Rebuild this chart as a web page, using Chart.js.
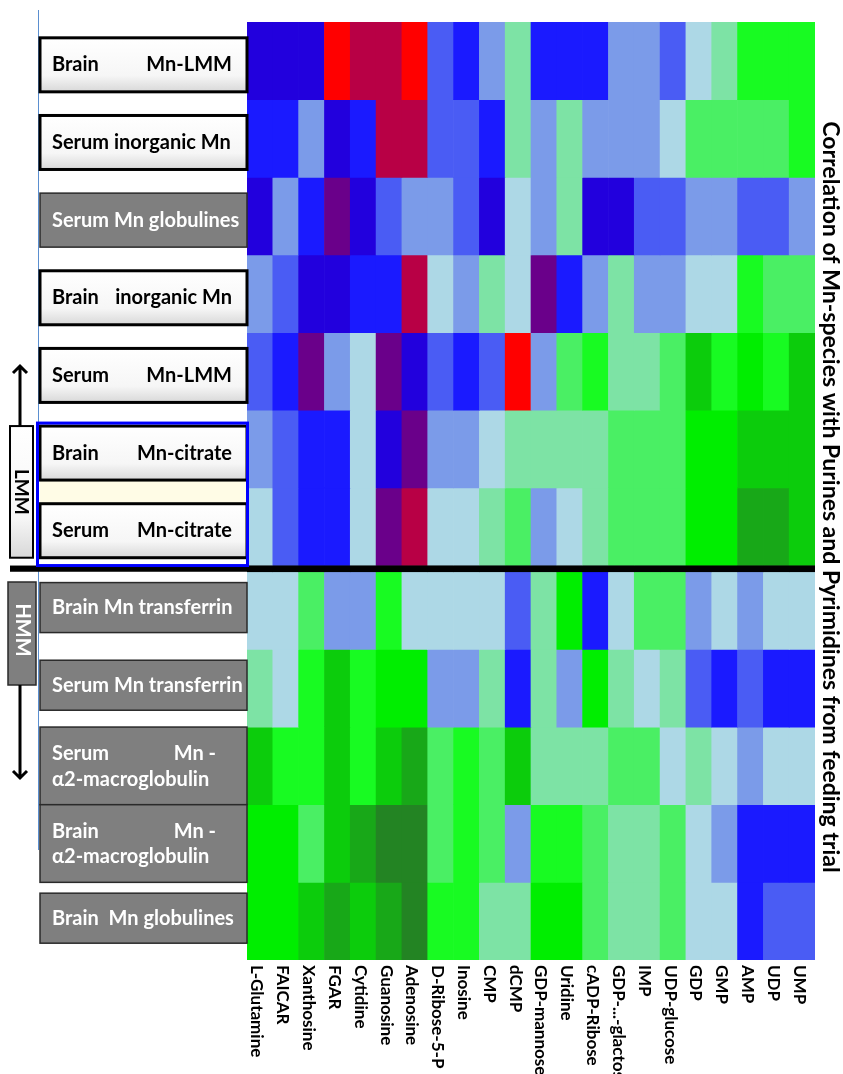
<!DOCTYPE html>
<html>
<head>
<meta charset="utf-8">
<script src="https://cdn.jsdelivr.net/npm/chart.js@4.4.0/dist/chart.umd.min.js"></script>
<style>
  html, body { margin: 0; padding: 0; background: #fff; }
  #wrap { width: 843px; height: 1074px; position: relative; }
</style>
</head>
<body>
<div id="wrap"><canvas id="heat"></canvas></div>
<script>
// columns: purines and pyrimidines, left to right
const metabolites = ['L-Glutamine', 'FAICAR', 'Xanthosine', 'FGAR', 'Cytidine', 'Guanosine', 'Adenosine',
  'D-Ribose-5-P', 'Inosine', 'CMP', 'dCMP', 'GDP-mannose', 'Uridine', 'cADP-Ribose', 'GDP-...-glactose',
  'IMP', 'UDP-glucose', 'GDP', 'GMP', 'AMP', 'UDP', 'UMP'];

// rows: Mn species, top to bottom (left part, right part, second line)
const species = [
  ['Brain', 'Mn-LMM'],
  ['Serum inorganic Mn'],
  ['Serum Mn globulines'],
  ['Brain', 'inorganic Mn'],
  ['Serum', 'Mn-LMM'],
  ['Brain', 'Mn-citrate'],
  ['Serum', 'Mn-citrate'],
  ['Brain Mn transferrin'],
  ['Serum Mn transferrin'],
  ['Serum', 'Mn -', 'α2-macroglobulin'],
  ['Brain', 'Mn -', 'α2-macroglobulin'],
  ['Brain  Mn globulines']
];

// correlation values (+0.7 red ... -0.7 dark green)
const brainMnLMM       = [0.4, 0.4, 0.4, 0.7, 0.6, 0.6, 0.7, 0.2, 0.3, 0.1, -0.1, 0.3, 0.3, 0.3, 0.1, 0.1, 0.2, 0, -0.1, -0.3, -0.3, -0.3];
const serumInorgMn     = [0.3, 0.3, 0.1, 0.4, 0.3, 0.6, 0.6, 0.2, 0.2, 0.3, -0.1, 0.1, -0.1, 0.1, 0.1, 0.1, 0, -0.2, -0.2, -0.2, -0.2, -0.3];
const serumMnGlob      = [0.4, 0.1, 0.3, 0.5, 0.4, 0.2, 0.1, 0.1, 0.2, 0.4, 0, 0.1, -0.1, 0.4, 0.4, 0.2, 0.2, 0.1, 0.1, 0.2, 0.2, 0.1];
const brainInorgMn     = [0.1, 0.2, 0.4, 0.4, 0.3, 0.3, 0.6, 0, 0.1, -0.1, 0, 0.5, 0.3, 0.1, -0.1, 0.1, 0.1, 0, 0, -0.3, -0.2, -0.2];
const serumMnLMM       = [0.2, 0.3, 0.5, 0.1, 0, 0.5, 0.4, 0.2, 0.3, 0.2, 0.7, 0.1, -0.2, -0.3, -0.1, -0.1, -0.2, -0.5, -0.3, -0.4, -0.3, -0.5];
const brainMnCitrate   = [0.1, 0.2, 0.3, 0.3, 0, 0.4, 0.5, 0.1, 0.1, 0, -0.1, -0.1, -0.1, -0.1, -0.2, -0.2, -0.2, -0.4, -0.4, -0.5, -0.5, -0.5];
const serumMnCitrate   = [0, 0.2, 0.3, 0.3, 0, 0.5, 0.6, 0, 0, -0.1, -0.2, 0.1, 0, -0.1, -0.2, -0.2, -0.2, -0.4, -0.4, -0.6, -0.6, -0.5];
const brainMnTransf    = [0, 0, -0.2, 0.1, 0.1, -0.3, 0, 0, 0, 0, 0.2, -0.1, -0.4, 0.3, 0, -0.2, -0.2, 0.1, 0, 0.1, 0, 0];
const serumMnTransf    = [-0.1, 0, -0.3, -0.5, -0.3, -0.4, -0.4, 0.1, 0.1, -0.1, 0.3, -0.1, 0.1, -0.4, -0.1, 0, -0.1, 0.2, 0.3, 0.2, 0.3, 0.3];
const serumMnA2M       = [-0.5, -0.3, -0.3, -0.5, -0.3, -0.5, -0.6, -0.2, -0.3, -0.2, -0.5, -0.1, -0.1, -0.1, -0.2, -0.2, 0, -0.1, 0, 0.1, 0, 0];
const brainMnA2M       = [-0.4, -0.4, -0.2, -0.5, -0.6, -0.7, -0.7, -0.2, -0.3, -0.2, 0.1, -0.3, -0.3, -0.2, -0.1, -0.1, -0.2, 0, 0.1, 0.3, 0.3, 0.3];
const brainMnGlob      = [-0.4, -0.4, -0.5, -0.6, -0.5, -0.6, -0.7, -0.3, -0.3, -0.1, -0.1, -0.4, -0.4, -0.2, -0.1, -0.1, -0.2, 0, 0, 0.3, 0.2, 0.2];

const rows = [brainMnLMM, serumInorgMn, serumMnGlob, brainInorgMn, serumMnLMM, brainMnCitrate,
  serumMnCitrate, brainMnTransf, serumMnTransf, serumMnA2M, brainMnA2M, brainMnGlob];

const lmmCount = 7;      // LMM rows above the black bar
const sepSize = 0.08;    // black bar thickness, in row units
const grayBoxes = [2, 7, 8, 9, 10, 11];

// colour steps from +0.7 down to -0.7
const palette = ['#ff0000', '#b80045', '#6a008a', '#2200dd', '#1a1aff', '#4a5cf4', '#7b9be9', '#add8e6',
  '#7de3a5', '#4aef64', '#18fb22', '#00ee00', '#0ccc0c', '#18a818', '#238423'];
function corrColor(v) {
  const i = Math.round((0.7 - v) * 10);
  return palette[Math.max(0, Math.min(palette.length - 1, i))];
}

const datasets = [];
rows.forEach((vals, r) => {
  if (r === lmmCount) {
    datasets.push({ label: 'sep', data: metabolites.map(() => sepSize), backgroundColor: '#000' });
  }
  datasets.push({ label: species[r].join(' '), data: vals.map(() => 1), backgroundColor: vals.map(corrColor) });
});

const FONT = 'Lato, "Open Sans", sans-serif';

function whiteBox(ctx, x, y, w, h, lw) {
  const g = ctx.createLinearGradient(0, y, 0, y + h);
  g.addColorStop(0, '#ffffff');
  g.addColorStop(0.7, '#f6f6f6');
  g.addColorStop(1, '#d8d8d8');
  ctx.fillStyle = g;
  ctx.fillRect(x, y, w, h);
  ctx.lineWidth = lw;
  ctx.strokeStyle = '#000';
  ctx.strokeRect(x, y, w, h);
}

function grayBox(ctx, x, y, w, h) {
  ctx.fillStyle = '#7f7f7f';
  ctx.fillRect(x, y, w, h);
  ctx.lineWidth = 1.5;
  ctx.strokeStyle = '#2a2a2a';
  ctx.strokeRect(x, y, w, h);
}

const decor = {
  id: 'decor',
  afterDraw(chart) {
    const { ctx, chartArea: a, scales: { x } } = chart;
    const tops = [], bots = [];
    let sepTop = 0, sepBot = 0;
    chart.data.datasets.forEach((ds, di) => {
      const el = chart.getDatasetMeta(di).data[0];
      const t = Math.min(el.y, el.base), b = Math.max(el.y, el.base);
      if (ds.label === 'sep') { sepTop = t; sepBot = b; return; }
      tops.push(t); bots.push(b);
    });

    ctx.save();
    // thin blue guide line
    ctx.strokeStyle = '#5b8fd0';
    ctx.lineWidth = 1;
    ctx.beginPath(); ctx.moveTo(38.5, 10); ctx.lineTo(38.5, 850); ctx.stroke();

    // cream band between the citrate pair
    const boxH = 54;
    const c6 = (tops[5] + bots[5]) / 2 + 4, c7 = (tops[6] + bots[6]) / 2 + 4;
    ctx.fillStyle = '#fffce6';
    ctx.fillRect(40, c6 + boxH / 2, 207, c7 - c6 - boxH);

    // black separator bar
    ctx.fillStyle = '#000';
    ctx.fillRect(10, sepTop, a.right - 10, sepBot - sepTop);

    // row label boxes
    species.forEach((parts, r) => {
      const mid = (tops[r] + bots[r]) / 2;
      const gray = grayBoxes.includes(r);
      let y0, h;
      if (parts.length === 3) { y0 = tops[r]; h = bots[r] - tops[r]; }
      else if (r < lmmCount) { y0 = mid + 4 - boxH / 2; h = boxH; }
      else { y0 = mid - 3 - 25; h = 50; }
      if (gray) grayBox(ctx, 40, y0, 207, h); else whiteBox(ctx, 40, y0, 207, h, 3);
      ctx.fillStyle = gray ? '#fff' : '#000';
      ctx.font = 'bold 20px ' + FONT;
      ctx.textBaseline = 'middle';
      if (parts.length === 3) {
        const y1 = y0 + h * 0.34, y2 = y0 + h * 0.67;
        ctx.textAlign = 'left'; ctx.fillText(parts[0], 52, y1);
        ctx.textAlign = 'right'; ctx.fillText(parts[1], 216, y1);
        ctx.textAlign = 'left'; ctx.fillText(parts[2], 52, y2);
      } else {
        const ty = y0 + h / 2;
        ctx.textAlign = 'left'; ctx.fillText(parts[0], 52, ty);
        if (parts[1]) { ctx.textAlign = 'right'; ctx.fillText(parts[1], 232, ty); }
      }
    });

    // blue frame around the citrate pair
    ctx.strokeStyle = '#0000ff';
    ctx.lineWidth = 3;
    ctx.strokeRect(37.5, c6 - boxH / 2 - 3, 210, sepTop - (c6 - boxH / 2 - 3));

    // LMM / HMM tags with arrows
    whiteBox(ctx, 10, c6 - boxH / 2, 23, c7 + boxH / 2 - (c6 - boxH / 2), 2);
    grayBox(ctx, 8, 582, 28, 103);
    ctx.font = 'bold 19px ' + FONT;
    ctx.textAlign = 'center';
    ctx.textBaseline = 'middle';
    ctx.save(); ctx.translate(21.5, (c6 + c7) / 2); ctx.rotate(Math.PI / 2);
    ctx.fillStyle = '#000'; ctx.fillText('LMM', 0, 0); ctx.restore();
    ctx.font = 'bold 20px ' + FONT;
    ctx.save(); ctx.translate(22, 630); ctx.rotate(Math.PI / 2);
    ctx.fillStyle = '#fff'; ctx.fillText('HMM', 0, 0); ctx.restore();

    ctx.strokeStyle = '#000';
    ctx.lineWidth = 3;
    ctx.beginPath();
    ctx.moveTo(20, c6 - boxH / 2); ctx.lineTo(20, 366);
    ctx.moveTo(13, 373); ctx.lineTo(20, 366); ctx.lineTo(27, 373);
    ctx.moveTo(20, 685); ctx.lineTo(20, 778);
    ctx.moveTo(13, 771); ctx.lineTo(20, 778); ctx.lineTo(27, 771);
    ctx.stroke();

    // metabolite labels, rotated clockwise
    ctx.fillStyle = '#000';
    ctx.font = 'bold 17px ' + FONT;
    ctx.textAlign = 'left';
    ctx.textBaseline = 'middle';
    metabolites.forEach((m, i) => {
      ctx.save();
      ctx.translate(x.getPixelForValue(i) - 3, a.bottom + 5);
      ctx.rotate(Math.PI / 2);
      ctx.fillText(m, 0, 0);
      ctx.restore();
    });

    // title down the right edge
    ctx.font = 'bold 23px ' + FONT;
    ctx.textAlign = 'center';
    ctx.save();
    ctx.translate(830, 497);
    ctx.rotate(Math.PI / 2);
    ctx.fillText('Correlation of Mn-species with Purines and Pyrimidines from feeding trial', 0, 0);
    ctx.restore();
    ctx.restore();
  }
};

new Chart(document.getElementById('heat'), {
  type: 'bar',
  data: { labels: metabolites, datasets: datasets },
  options: {
    responsive: true,
    maintainAspectRatio: false,
    animation: false,
    layout: { padding: { left: 247, right: 28, top: 22, bottom: 114 } },
    plugins: { legend: { display: false }, tooltip: { enabled: false } },
    datasets: { bar: { barPercentage: 1, categoryPercentage: 1, borderWidth: 0 } },
    scales: {
      x: { stacked: true, display: false },
      y: { stacked: true, display: false, reverse: true, min: 0, max: rows.length + sepSize }
    }
  },
  plugins: [decor]
});
</script>
</body>
</html>
